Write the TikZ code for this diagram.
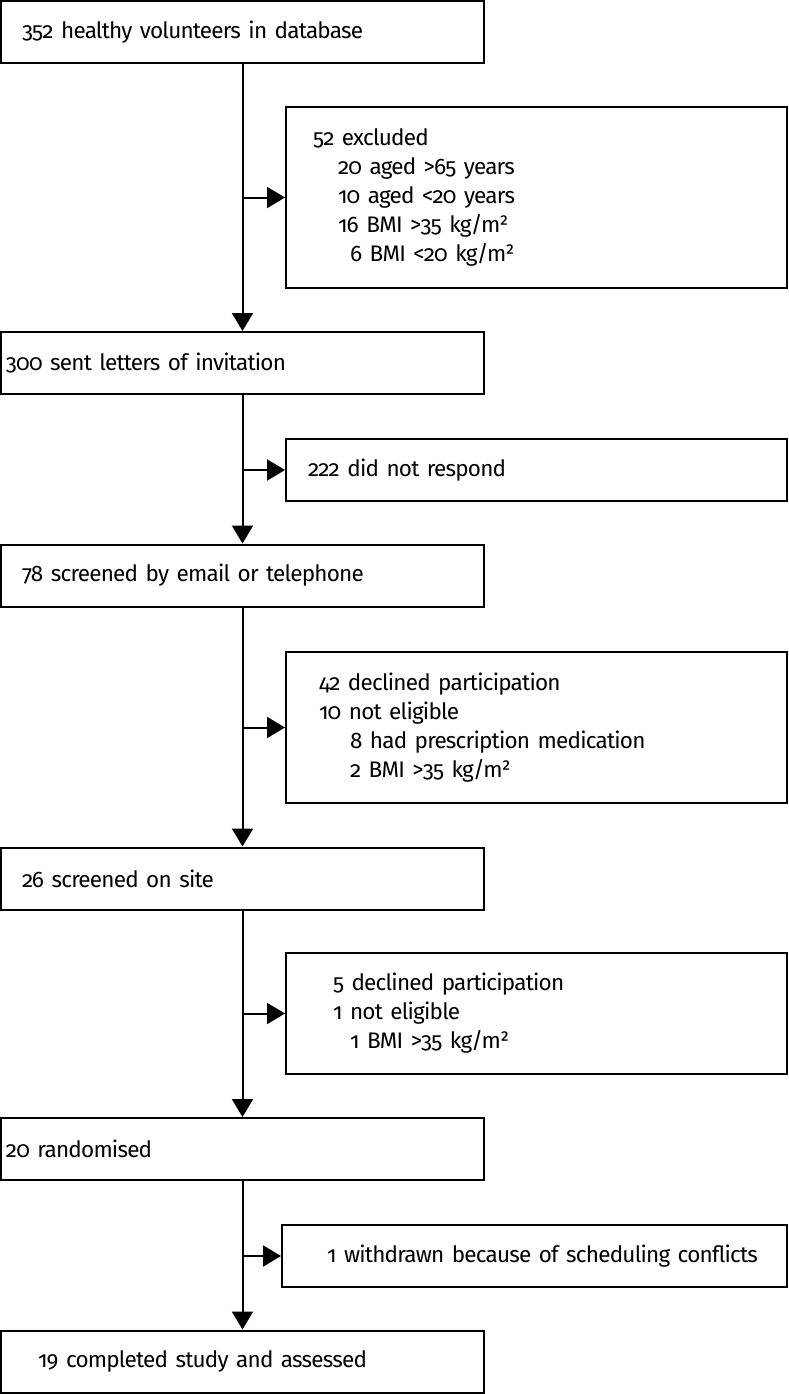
\documentclass[tikz,border=0pt]{standalone}
\usepackage{fontspec}
\setmainfont{Fira Sans}[Numbers=OldStyle,LetterSpace=-3.5,WordSpace=0.6]
\usepackage{tikz}
\usetikzlibrary{arrows.meta,positioning}
\tikzset{>={Triangle[length=18pt,width=21pt]}}
\tikzset{
  mainbox/.style={draw,line width=2pt,inner xsep=0pt,inner ysep=0pt,text width=483pt,align=left,minimum height=62pt},
  sidebox/.style={draw,line width=2pt,inner xsep=0pt,inner ysep=0pt,text width=501pt,align=left},
  flow/.style={line width=2pt}
}

\begin{document}
\begin{tikzpicture}[x=1pt,y=-1pt,font=\fontsize{22.5}{29}\selectfont]
    \useasboundingbox (0,0) rectangle (789,1394);
      \node[mainbox] (vol) at (242.5,32.5) {\hspace*{21pt}352 healthy volunteers in database};
      \node[sidebox,minimum height=181pt] (excl) at (536.5,197.5) {\hspace*{27pt}52 excluded\\
        \hspace*{52pt}20 aged >65 years\\
        \hspace*{52pt}10 aged <20 years\\
        \hspace*{52pt}16 BMI >35 kg/m²\\
        \hspace*{64pt}6 BMI <20 kg/m²\\[36pt]};
      \node[mainbox] (sent) at (242.5,363) {\hspace*{5pt}300 sent letters of invitation};
      \node[sidebox,minimum height=62pt] (noresp) at (536.5,470) {\hspace*{22pt}222 did not respond};
      \node[mainbox] (phone) at (242.5,575.5) {\hspace*{21pt}78 screened by email or telephone};
      \node[sidebox,minimum height=151pt] (decl) at (536.5,727.5) {\hspace*{33pt}42 declined participation\\
        \hspace*{33pt}10 not eligible\\
        \hspace*{64pt}8 had prescription medication\\
        \hspace*{64pt}2 BMI >35 kg/m²};
      \node[mainbox] (site) at (242.5,878.5) {\hspace*{21pt}26 screened on site};
      \node[sidebox,minimum height=121pt] (decl2) at (536.5,1013.5) {\hspace*{47pt}5 declined participation\\
        \hspace*{47pt}1 not eligible\\
        \hspace*{64pt}1 BMI >35 kg/m²};
      \node[mainbox] (rand) at (242.5,1149) {\hspace*{5pt}20 randomised};
      \node[draw,line width=2pt,inner xsep=0pt,inner ysep=0pt,text width=505pt,align=left,minimum height=62pt] (wdr) at (534.5,1256) {\hspace*{45pt}1 withdrawn because of scheduling conflicts};
      \node[mainbox] (done) at (242.5,1361.5) {\hspace*{37pt}19 completed study and assessed};
      \coordinate (j1) at (vol.south |- excl.west);
      \coordinate (j2) at (sent.south |- noresp.west);
      \coordinate (j3) at (phone.south |- decl.west);
      \coordinate (j4) at (site.south |- decl2.west);
      \coordinate (j5) at (rand.south |- wdr.west);
      \draw[flow,->] (vol.south) -- (sent.north);
      \draw[flow,->] (sent.south) -- (phone.north);
      \draw[flow,->] (phone.south) -- (site.north);
      \draw[flow,->] (site.south) -- (rand.north);
      \draw[flow,->] (rand.south) -- (done.north);
      \draw[flow,->] (j1) -- (excl.west);
      \draw[flow,->] (j2) -- (noresp.west);
      \draw[flow,->] (j3) -- (decl.west);
      \draw[flow,->] (j4) -- (decl2.west);
      \draw[flow,->] (j5) -- (wdr.west);
\end{tikzpicture}
\end{document}
